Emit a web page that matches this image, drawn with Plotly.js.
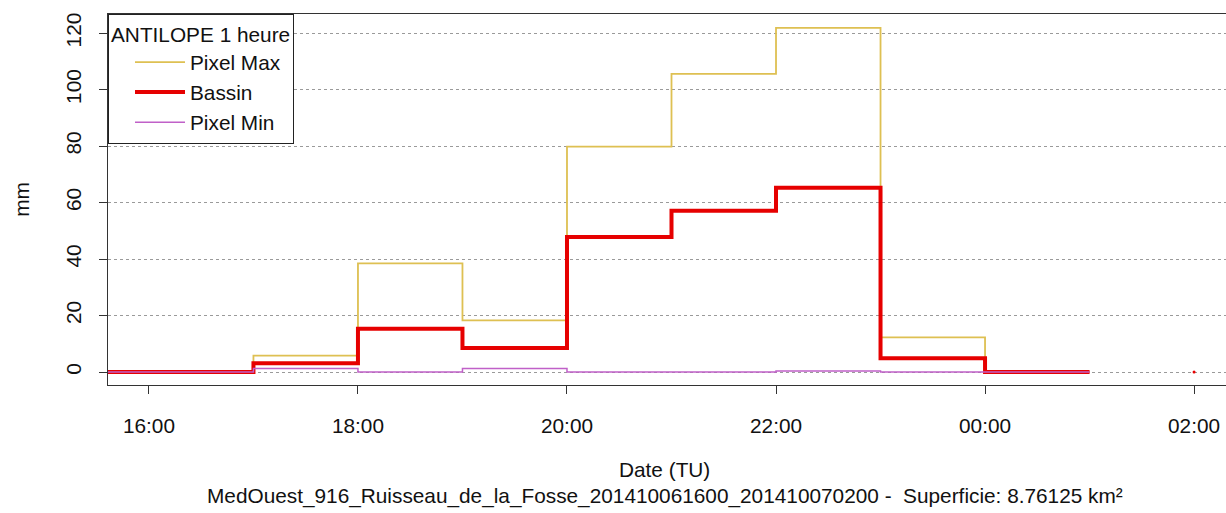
<!DOCTYPE html>
<html>
<head>
<meta charset="utf-8">
<script src="https://cdn.plot.ly/plotly-3.0.1.min.js"></script>
<style>html,body{margin:0;padding:0;background:#fff;}#chart{width:1226px;height:513px;}</style>
</head>
<body>
<div id="chart"></div>
<script>
// Hourly accumulation (mm), step value holds from the given hour until the next one
const times = [
  '2014-10-06 15:00', '2014-10-06 16:00', '2014-10-06 17:00', '2014-10-06 18:00',
  '2014-10-06 19:00', '2014-10-06 20:00', '2014-10-06 21:00', '2014-10-06 22:00',
  '2014-10-06 23:00', '2014-10-07 00:00', '2014-10-07 01:00'
];
const pixelMax = [0, 0, 5.8, 38.5, 18.3, 79.8, 105.6, 121.9, 12.3, 0, 0];
const bassin   = [0, 0, 3.1, 15.3, 8.5, 47.8, 57.1, 65.3, 4.9, 0, 0];
const pixelMin = [0, 0, 1.2, 0, 1.2, 0, 0, 0.4, 0, 0, 0];
const endTime = ['2014-10-07 02:00'];
const endValue = [0];

const legendTitle = 'ANTILOPE 1 heure';
const seriesNames = ['Pixel Max', 'Bassin', 'Pixel Min'];
const xTitle = 'Date (TU)';
const subTitle = 'MedOuest_916_Ruisseau_de_la_Fosse_201410061600_201410070200 -  Superficie: 8.76125 km²';
const yTitle = 'mm';

const FONT = 'Liberation Sans, Arial, sans-serif';
const FS = 20.8;

const traces = [
  {x: times, y: pixelMax, name: seriesNames[0], type: 'scatter', mode: 'lines',
   line: {shape: 'hv', color: '#DEC052', width: 1.8}},
  {x: times, y: bassin, name: seriesNames[1], type: 'scatter', mode: 'lines',
   line: {shape: 'hv', color: '#E60000', width: 4}},
  {x: times, y: pixelMin, name: seriesNames[2], type: 'scatter', mode: 'lines',
   line: {shape: 'hv', color: '#C060C8', width: 1.5}},
  {x: endTime, y: endValue, type: 'scatter', mode: 'markers', showlegend: false,
   marker: {color: '#E60000', size: 3}, hoverinfo: 'skip'}
];

const layout = {
  width: 1226, height: 513,
  margin: {l: 108, r: 0, t: 14, b: 128},
  paper_bgcolor: '#fff', plot_bgcolor: '#fff',
  font: {family: FONT, size: FS, color: '#111'},
  showlegend: true,
  legend: {
    x: 0, y: 1, xanchor: 'left', yanchor: 'top',
    bgcolor: '#fff', bordercolor: '#222', borderwidth: 1,
    font: {family: FONT, size: FS, color: '#111'},
    title: {text: legendTitle, font: {family: FONT, size: FS, color: '#111'}},
    tracegroupgap: 0,
    indentation: 21,
    itemwidth: 50
  },
  xaxis: {
    type: 'date',
    range: ['2014-10-06 15:36:30', '2014-10-07 02:18:20'],
    tick0: '2014-10-06 16:00', dtick: 7200000,
    tickformat: '%H:%M',
    ticks: 'outside', ticklen: 8, tickcolor: '#333', tickwidth: 1,
    ticklabelstandoff: 14,
    showline: true, mirror: true, linecolor: '#333', linewidth: 1,
    showgrid: false, zeroline: false,
    tickfont: {family: FONT, size: FS, color: '#111'}
  },
  yaxis: {
    range: [-4.6, 126.8],
    tickvals: [0, 20, 40, 60, 80, 100, 120],
    tickangle: -90,
    ticks: 'outside', ticklen: 8, tickcolor: '#333', tickwidth: 1,
    ticklabelstandoff: 10,
    showline: true, mirror: false, linecolor: '#333', linewidth: 1,
    showgrid: true, gridcolor: '#9a9a9a', griddash: 'dot', gridwidth: 1,
    zeroline: false,
    tickfont: {family: FONT, size: FS, color: '#111'},
    title: {text: yTitle, standoff: 26, font: {family: FONT, size: FS, color: '#111'}}
  },
  annotations: [
    {text: xTitle, xref: 'paper', yref: 'paper', x: 0.498, y: 0, xanchor: 'center', yanchor: 'middle',
     yshift: -84, showarrow: false, font: {family: FONT, size: FS, color: '#111'}},
    {text: subTitle, xref: 'paper', yref: 'paper', x: 0.498, y: 0, xanchor: 'center', yanchor: 'middle',
     yshift: -111, showarrow: false, font: {family: FONT, size: FS, color: '#111'}}
  ]
};

Plotly.newPlot('chart', traces, layout, {displayModeBar: false, responsive: false});
</script>
</body>
</html>
